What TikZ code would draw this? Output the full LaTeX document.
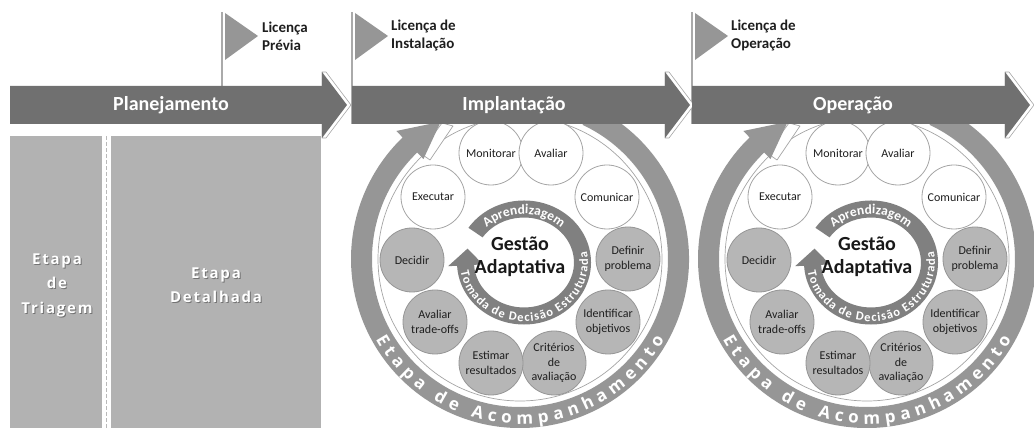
\documentclass[tikz,border=0pt]{standalone}
\usepackage{fontspec}
\setmainfont{Carlito}
\newfontfamily\osans{Open Sans}
\newfontfamily\osansls{Open Sans}[LetterSpace=12]
\usetikzlibrary{decorations.text}
\definecolor{bargray}{RGB}{112,112,112}
\definecolor{ringgray}{RGB}{150,150,150}
\definecolor{innergray}{RGB}{128,128,128}
\definecolor{rectgray}{RGB}{178,178,178}
\definecolor{circgray}{RGB}{182,182,182}
\definecolor{circline}{RGB}{150,150,150}
\definecolor{wline}{RGB}{165,165,165}
\definecolor{flaggray}{RGB}{150,150,150}
\definecolor{polegray}{RGB}{170,170,170}
\definecolor{txt}{RGB}{30,30,30}
\tikzset{
  phasebar/.style={fill=bargray, draw=none},
  barshadow/.style={fill=white, draw=gray!70, line width=0.6pt, line join=round},
  bartext/.style={text=white, font=\fontsize{20pt}{24pt}\selectfont\bfseries},
  flagtri/.style={fill=flaggray, draw=none},
  pole/.style={draw=polegray, line width=1.5pt},
  flagtext/.style={anchor=west, align=left, text=txt, inner sep=0pt, font=\fontsize{15pt}{18pt}\selectfont\bfseries},
  stagebox/.style={fill=rectgray, draw=none},
  stagetext/.style={align=center, text=white, font=\fontsize{15pt}{24.5pt}\selectfont\osansls\bfseries},
  stageshadow/.style={stagetext, text=black!55},
  wcirc/.style={circle, minimum size=64pt, inner sep=0pt, fill=white, draw=wline, line width=0.8pt, align=center, text=txt, font=\fontsize{12pt}{14.5pt}\selectfont},
  gcirc/.style={wcirc, fill=circgray, draw=circline},
  centertext/.style={align=center, text=black!90, font=\fontsize{20pt}{23pt}\selectfont\bfseries},
  thinline/.style={fill=white, draw=wline, line width=0.7pt, line join=round}
}
\begin{document}
\begin{tikzpicture}[x=1pt,y=1pt]
\useasboundingbox (0,0) rectangle (1034,428);
\clip (0,0) rectangle (1034,428);

% left stages
\fill[stagebox] (10,0) rectangle (102,292);
\fill[stagebox] (111,0) rectangle (321,292);
\draw[draw=gray!55, line width=1.5pt, dash pattern=on 4pt off 2pt] (106.5,0) -- (106.5,292);
\node[stageshadow] at (58,142) {Etapa\\de\\Triagem};
\node[stagetext] (triagem) at (57,143) {Etapa\\de\\Triagem};
\node[stageshadow] at (217,142) {Etapa\\Detalhada};
\node[stagetext] (detalhada) at (216,143) {Etapa\\Detalhada};

% adaptive cycles
\foreach \cx/\s in {520/I,867/O}{
\begin{scope}[shift={(\cx,169)}]
  \filldraw[thinline] (0,0) circle (142);
  \filldraw[thinline] (-100,106) -- (-78,136) -- (-67,133) -- (-90,99) -- cycle;
  \fill[ringgray] (65:169) arc[start angle=65, end angle=-226, radius=169]
     -- (134:178) -- (120:158.5) -- (134:139) -- (134:148)
     arc[start angle=134, end angle=425, radius=148] -- cycle;
  \path[decorate, decoration={text along path, text align=fit to path,
     text={|\fontsize{17pt}{17pt}\selectfont\osans\bfseries\color{white}|Etapa de Acompanhamento}}]
     (209:165) arc[start angle=209, end angle=331, radius=165];
  \begin{scope}[shift={(4,-3.5)}]
    \fill[innergray] (146:67 and 62) arc[start angle=146, end angle=-177, x radius=67, y radius=62]
       -- (-177:76 and 71) -- (-195:58.5 and 53.5) -- (-177:41 and 36) -- (-177:50 and 45)
       arc[start angle=-177, end angle=146, x radius=50, y radius=45] -- cycle;
    \path[decorate, decoration={text along path, text align=center,
       text={|\fontsize{13.5pt}{13.5pt}\selectfont\bfseries\color{white}|Aprendizagem}}]
       (133:53.5 and 48.5) arc[start angle=133, end angle=47, x radius=53.5, y radius=48.5];
    \path[decorate, decoration={text along path, text align=fit to path,
       text={|\fontsize{12.5pt}{12.5pt}\selectfont\bfseries\color{white}|Tomada de Decisão Estruturada}}]
       (189:64 and 59) arc[start angle=189, end angle=371, x radius=64, y radius=59];
  \end{scope}
  \node[wcirc] (mon\s) at (-29,106) {Monitorar};
  \node[wcirc] (ava\s) at (31,106) {Avaliar};
  \node[wcirc] (com\s) at (87,62) {Comunicar};
  \node[gcirc] (def\s) at (108,0) {Definir\\problema};
  \node[gcirc] (ide\s) at (88,-63) {Identificar\\objetivos};
  \node[gcirc] (cri\s) at (34,-104) {Critérios\\de\\avaliação};
  \node[gcirc] (est\s) at (-29,-104) {Estimar\\resultados};
  \node[gcirc] (tra\s) at (-85,-63) {Avaliar\\trade-offs};
  \node[gcirc] (dec\s) at (-108,-1) {Decidir};
  \node[wcirc] (exe\s) at (-87,62) {Executar};
  \node[centertext] (ges\s) at (0,2) {Gestão\\Adaptativa};
\end{scope}
}

% flags
\draw[pole] (222,416) -- (222,342);
\fill[flagtri] (225,415) -- (258,392) -- (225,368) -- cycle;
\node[flagtext] (lp) at (262,392) {Licença\\Prévia};
\draw[pole] (352,416) -- (352,304);
\fill[flagtri] (355,415) -- (388,392) -- (355,368) -- cycle;
\node[flagtext] (li) at (391,392) {Licença de\\Instalação};
\draw[pole] (692,416) -- (692,304);
\fill[flagtri] (695,415) -- (728,392) -- (695,368) -- cycle;
\node[flagtext] (lo) at (731,392) {Licença de\\Operação};

% phase bars
\filldraw[barshadow] (322,290) -- (326,290) -- (351,323) -- (326,356) -- (322,356) -- cycle;
\fill[phasebar] (10,304) -- (322,304) -- (322,290) -- (347,323) -- (322,356) -- (322,342) -- (10,342) -- cycle;
\filldraw[barshadow] (665,290) -- (669,290) -- (694,323) -- (669,356) -- (665,356) -- cycle;
\fill[phasebar] (352,304) -- (665,304) -- (665,290) -- (690,323) -- (665,356) -- (665,342) -- (352,342) -- cycle;
\filldraw[barshadow] (1005,290) -- (1009,290) -- (1034,323) -- (1009,356) -- (1005,356) -- cycle;
\fill[phasebar] (692,304) -- (1005,304) -- (1005,290) -- (1030,323) -- (1005,356) -- (1005,342) -- (692,342) -- cycle;
\node[bartext] (plan) at (171,323) {Planejamento};
\node[bartext] (impl) at (514,323) {Implantação};
\node[bartext] (oper) at (853,323) {Operação};
\end{tikzpicture}
\end{document}
